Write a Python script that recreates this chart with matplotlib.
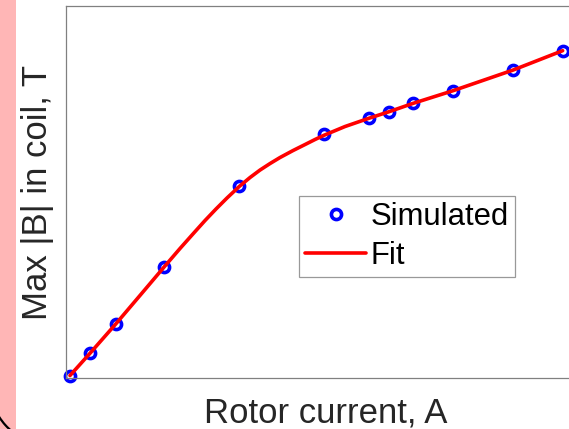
import numpy as np
import matplotlib
matplotlib.use("Agg")
import matplotlib.pyplot as plt
from matplotlib.patches import Rectangle, Arc
from matplotlib.transforms import IdentityTransform

plt.rcParams['font.family'] = ['Liberation Sans', 'DejaVu Sans']

# Simulated data (rotor current, A ; max |B| in coil, T)
current = [0, 4.06, 9.28, 19.18, 34.36, 51.55, 60.69, 64.74, 69.68, 77.80, 89.97, 100]
bmax = [0, 0.137, 0.317, 0.671, 1.167, 1.485, 1.584, 1.624, 1.676, 1.754, 1.881, 2.0]

# Fit curve
fit_current = [0, 4.06, 9.28, 14.21, 19.18, 22.33, 25.03, 27.40, 29.63, 31.87,
               34.36, 36.54, 38.57, 40.60, 42.62, 45.26, 47.70, 49.73, 51.55,
               55.82, 60.69, 64.74, 69.68, 77.80, 89.97, 100]
fit_bmax = [0, 0.137, 0.317, 0.493, 0.671, 0.782, 0.874, 0.954, 1.025, 1.093,
            1.164, 1.219, 1.265, 1.305, 1.342, 1.385, 1.422, 1.453, 1.479,
            1.533, 1.584, 1.624, 1.676, 1.754, 1.881, 2.0]

W, H = 569, 429
fig = plt.figure(figsize=(W / 100, H / 100), dpi=100)
fig.patch.set_facecolor('white')

# decoration: pink strip on the left and rounded corner arc
fig.patches.append(Rectangle((0, 0), 16 / W, 1, transform=fig.transFigure,
                             facecolor='#ffb6b6', edgecolor='none', zorder=0))
arc = Arc((50, 44), 120, 120, theta1=212, theta2=232,
          color='black', lw=1.6, zorder=5)
arc.set_transform(IdentityTransform())
fig.patches.append(arc)

left, right, bottom, top = 65.7, 586.3, 378.3, 6
ax = fig.add_axes([left / W, 1 - bottom / H, (right - left) / W, (bottom - top) / H])

ax.plot(current, bmax, linestyle='none', marker='o', markersize=7.3,
        markerfacecolor='none', markeredgecolor='#0000ff', markeredgewidth=2.6,
        label='Simulated', zorder=2, clip_on=False)
ax.plot(fit_current, fit_bmax, color='#ff0000', lw=2.6, label='Fit', zorder=3,
        solid_joinstyle='round', solid_capstyle='round')

ax.set_xlim(-0.87, 104.8)
ax.set_ylim(-0.017, 2.275)
ax.set_xticks([])
ax.set_yticks([])
for s in ax.spines.values():
    s.set_color('#808080')
    s.set_linewidth(0.9)

ax.set_xlabel('Rotor current, A', fontsize=25, color='#262626')
ax.xaxis.set_label_coords(0.5, -0.048)
ax.set_ylabel('Max |B| in coil, T', fontsize=25, color='#262626')
ax.yaxis.set_label_coords(-0.022, 0.5)

leg = ax.legend(loc='upper left', bbox_to_anchor=(299 / W, 1 - 196 / H),
                bbox_transform=fig.transFigure, fontsize=22.3, frameon=True,
                fancybox=False, borderaxespad=0, handlelength=1.96,
                handletextpad=0.15, labelspacing=0.28, borderpad=0.2)
leg.get_frame().set_edgecolor('#808080')
leg.get_frame().set_linewidth(0.9)

fig.savefig('out.png', dpi=100)
